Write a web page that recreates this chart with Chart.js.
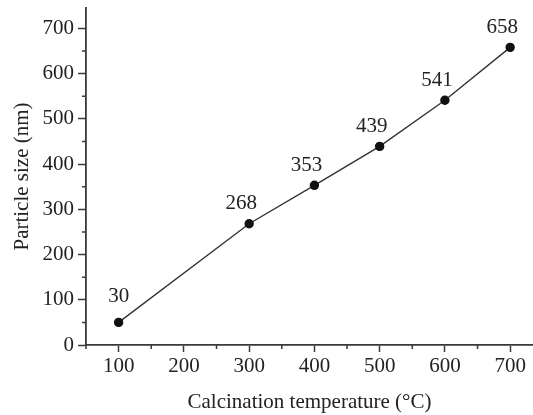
<!DOCTYPE html>
<html>
<head>
<meta charset="utf-8">
<script src="https://cdn.jsdelivr.net/npm/chart.js@4/dist/chart.umd.min.js"></script>
<style>
  html, body { margin: 0; padding: 0; background: #fff; }
  #wrap { width: 533px; height: 415px; }
</style>
</head>
<body>
<div id="wrap"><canvas id="chart" width="533" height="415"></canvas></div>
<script>
// Datos
const temperaturas = [100, 300, 400, 500, 600, 700];
const tamanos = [50, 268, 353, 439, 541, 658];
const etiquetas = ['30', '268', '353', '439', '541', '658'];
const ticksX = [100, 200, 300, 400, 500, 600, 700];
const ticksY = [0, 100, 200, 300, 400, 500, 600, 700];
const menoresX = [50, 150, 250, 350, 450, 550, 650];
const menoresY = [50, 150, 250, 350, 450, 550, 650];

const fuente = 'Liberation Serif, Times New Roman, serif';
const colorEje = '#3a3a3a';
const colorTexto = '#222';

// Etiquetas de valor sobre cada punto
const pluginEtiquetas = {
  id: 'etiquetas',
  afterDatasetsDraw(chart) {
    const ctx = chart.ctx;
    const meta = chart.getDatasetMeta(0);
    ctx.save();
    ctx.font = '21px ' + fuente;
    ctx.fillStyle = colorTexto;
    ctx.textAlign = 'center';
    ctx.textBaseline = 'middle';
    meta.data.forEach(function (p, i) {
      const dx = i === 0 ? 0 : -8;
      const dy = i === 0 ? -26 : -20;
      ctx.fillText(etiquetas[i], p.x + dx, p.y + dy);
    });
    ctx.restore();
  }
};

// Marcas menores en los ejes
const pluginMenores = {
  id: 'menores',
  afterDraw(chart) {
    const ctx = chart.ctx;
    const x = chart.scales.x;
    const y = chart.scales.y;
    ctx.save();
    ctx.strokeStyle = colorEje;
    ctx.lineWidth = 1.5;
    ctx.beginPath();
    menoresX.forEach(function (v) {
      const px = x.getPixelForValue(v);
      ctx.moveTo(px, x.top);
      ctx.lineTo(px, x.top + 4);
    });
    menoresY.forEach(function (v) {
      const py = y.getPixelForValue(v);
      ctx.moveTo(y.right, py);
      ctx.lineTo(y.right - 4, py);
    });
    ctx.stroke();
    ctx.restore();
  }
};

new Chart(document.getElementById('chart'), {
  type: 'line',
  data: {
    datasets: [{
      data: temperaturas.map(function (t, i) { return { x: t, y: tamanos[i] }; }),
      borderColor: '#333',
      borderWidth: 1.4,
      pointRadius: 4,
      pointBackgroundColor: '#111',
      pointBorderColor: '#111',
      tension: 0
    }]
  },
  options: {
    responsive: false,
    animation: false,
    layout: { autoPadding: false, padding: { top: 8, right: 0, left: 0, bottom: 0 } },
    plugins: { legend: { display: false }, tooltip: { enabled: false } },
    scales: {
      x: {
        type: 'linear',
        min: 50,
        max: 735,
        afterBuildTicks: function (axis) { axis.ticks = ticksX.map(function (v) { return { value: v }; }); },
        afterFit: function (axis) {
          axis.height = 70;
          axis.paddingLeft = 0;
          axis.paddingRight = 0;
        },
        grid: { drawOnChartArea: false, tickLength: 7, tickColor: colorEje, tickWidth: 1.5 },
        border: { color: colorEje, width: 1.8 },
        ticks: { font: { family: fuente, size: 21 }, color: colorTexto, padding: 2, maxRotation: 0 },
        title: {
          display: true,
          text: 'Calcination temperature (°C)',
          font: { family: fuente, size: 21 },
          color: colorTexto,
          padding: { top: 0, bottom: 0 }
        }
      },
      y: {
        type: 'linear',
        min: 0,
        max: 745,
        afterBuildTicks: function (axis) { axis.ticks = ticksY.map(function (v) { return { value: v }; }); },
        afterFit: function (axis) {
          axis.width = 86;
          axis.paddingTop = 0;
          axis.paddingBottom = 0;
        },
        grid: { drawOnChartArea: false, tickLength: 8, tickColor: colorEje, tickWidth: 1.5 },
        border: { color: colorEje, width: 1.8 },
        ticks: { font: { family: fuente, size: 21 }, color: colorTexto, padding: 4 },
        title: {
          display: true,
          text: 'Particle size (nm)',
          font: { family: fuente, size: 21 },
          color: colorTexto,
          padding: { top: 10, bottom: 0 }
        }
      }
    }
  },
  plugins: [pluginEtiquetas, pluginMenores]
});
</script>
</body>
</html>
